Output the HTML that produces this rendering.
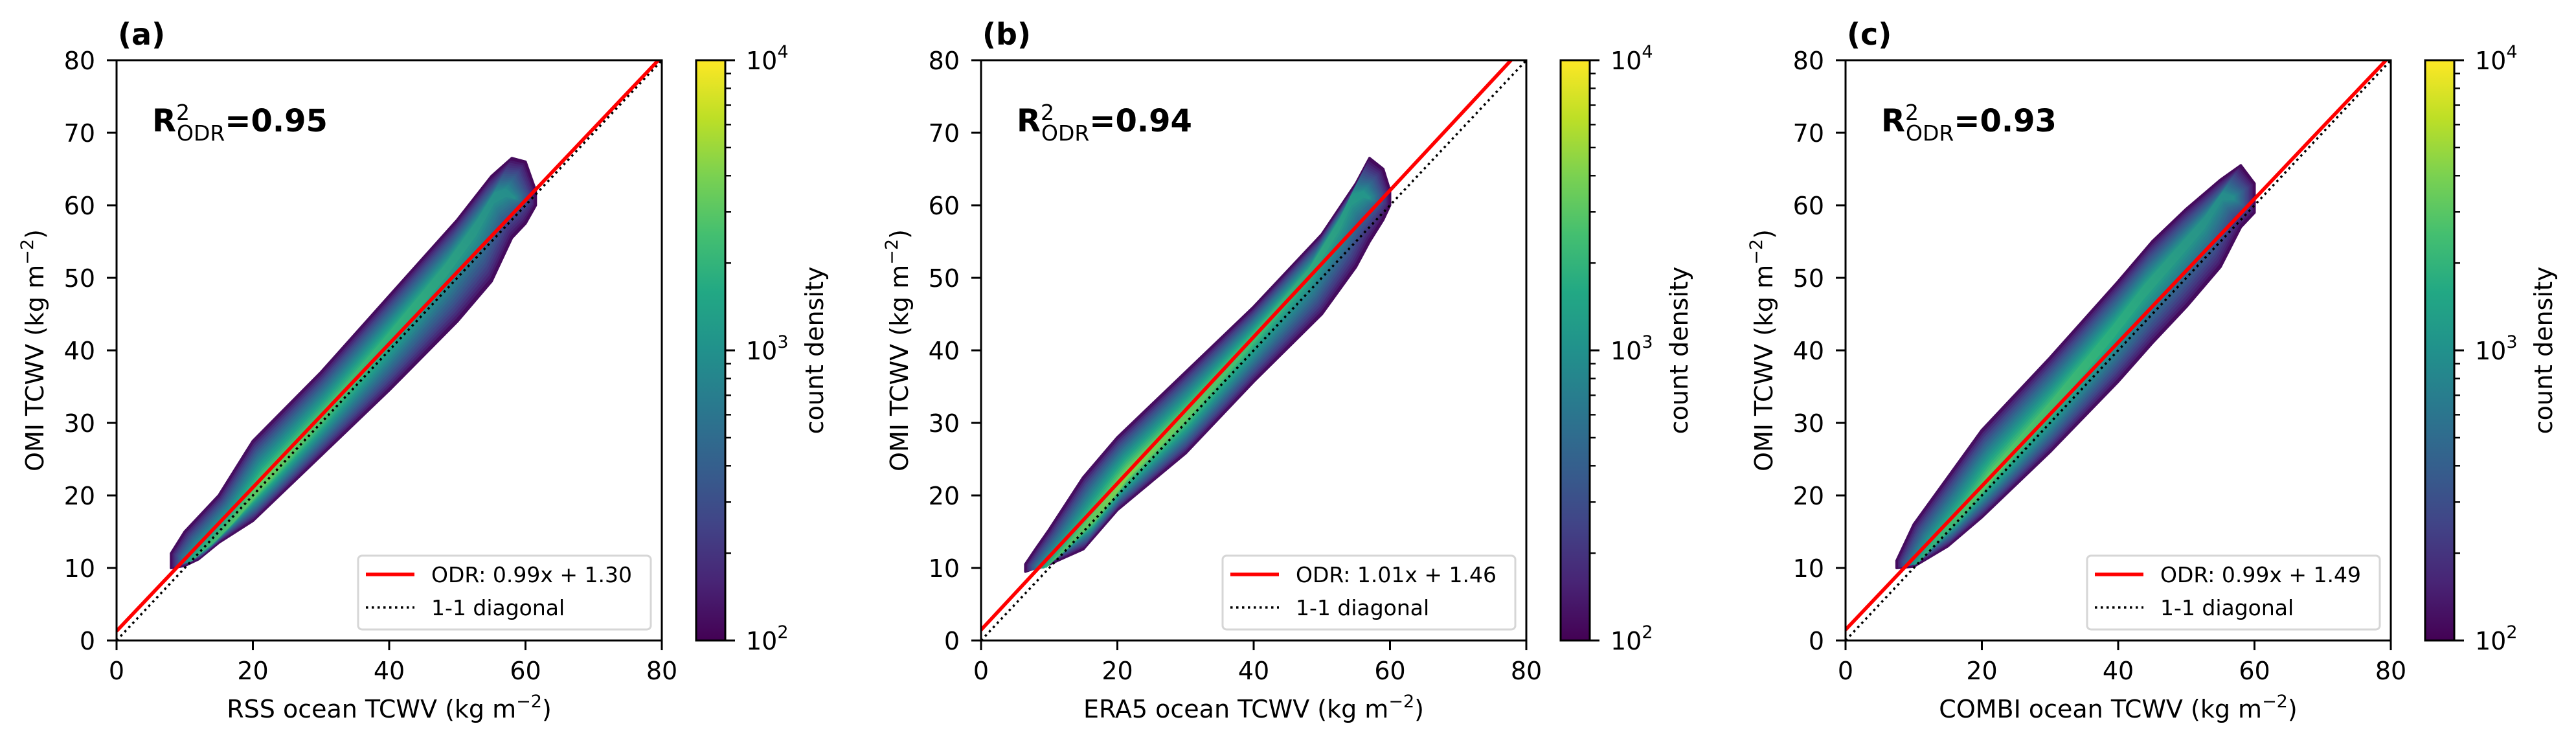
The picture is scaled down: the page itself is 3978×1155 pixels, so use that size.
<!DOCTYPE html>
<html><head><meta charset="utf-8">
<style>
html,body{margin:0;padding:0;background:#fff;}
svg{display:block;font-family:"DejaVu Sans","Liberation Sans",sans-serif;}
</style></head>
<body>
<svg id="fig" width="3978" height="1155" viewBox="0 0 3978 1155" xmlns="http://www.w3.org/2000/svg">
<defs>
<linearGradient id="viridis" x1="0" y1="1" x2="0" y2="0">
<stop offset="0" stop-color="#440154"/><stop offset="0.1" stop-color="#482475"/><stop offset="0.2" stop-color="#414487"/><stop offset="0.3" stop-color="#355f8d"/><stop offset="0.4" stop-color="#2a788e"/><stop offset="0.5" stop-color="#21918c"/><stop offset="0.6" stop-color="#22a884"/><stop offset="0.7" stop-color="#44bf70"/><stop offset="0.8" stop-color="#7ad151"/><stop offset="0.9" stop-color="#bddf26"/><stop offset="1" stop-color="#fde725"/>
</linearGradient>
</defs>
</svg>
<script>
// ---- data ----
const panelLabels = ["(a)", "(b)", "(c)"];
const xLabels = ["RSS ocean TCWV", "ERA5 ocean TCWV", "COMBI ocean TCWV"];
const r2Values = ["0.95", "0.94", "0.93"];
const slopes = [0.99, 1.01, 0.99];
const intercepts = [1.30, 1.46, 1.49];
const tickValues = [0, 10, 20, 30, 40, 50, 60, 70, 80];
const xTickValues = [0, 20, 40, 60, 80];
const cbarExponents = [2, 3, 4];
const peakDensity = [0.80, 0.85, 0.78];
const cloudXsA = [8, 10, 12, 15, 20, 30, 40, 50, 55, 58, 60, 61.5];
const cloudHiA = [12, 15, 17, 20, 27.5, 37, 47.5, 58, 64, 66.5, 66, 62];
const cloudLoA = [10, 10.3, 11.2, 13.5, 16.5, 25.5, 34.5, 44, 49.5, 55.5, 57.5, 60];
const cloudXsB = [6.5, 8, 10, 15, 20, 30, 40, 50, 55, 57, 59, 60];
const cloudHiB = [10.5, 12.6, 15.3, 22.5, 28, 37, 46, 56, 63, 66.5, 65, 62];
const cloudLoB = [9.5, 10, 10.5, 12.6, 18, 25.8, 35.7, 45, 51.5, 55, 58, 60];
const cloudXsC = [7.5, 10, 15, 20, 30, 40, 45, 50, 55, 58, 60];
const cloudHiC = [11, 16, 22.5, 29, 39, 49.5, 55, 59.5, 63.5, 65.5, 63];
const cloudLoC = [10, 10.2, 13, 17, 26, 35.7, 41, 46, 51.5, 57, 59];

const clouds = [[cloudXsA, cloudHiA, cloudLoA], [cloudXsB, cloudHiB, cloudLoB], [cloudXsC, cloudHiC, cloudLoC]];
const svg = document.getElementById('fig');
const NS = 'http://www.w3.org/2000/svg';
const defs = svg.querySelector('defs');
const LEFTS = [180, 1515, 2850], TOP = 93, W = 842, H = 896;
const VIR = ["#440154","#482475","#414487","#355f8d","#2a788e","#21918c","#22a884","#44bf70","#7ad151","#bddf26","#fde725"];
function hex(h){return [parseInt(h.substr(1,2),16),parseInt(h.substr(3,2),16),parseInt(h.substr(5,2),16)];}
function vir(v){v=Math.max(0,Math.min(1,v));const f=v*10,i=Math.min(9,Math.floor(f)),t=f-i;const a=hex(VIR[i]),b=hex(VIR[i+1]);
 return 'rgb('+a.map((c,k)=>Math.round(c+(b[k]-c)*t)).join(',')+')';}
function mk(tag, attrs, parent){const e=document.createElementNS(NS,tag);for(const k in attrs)e.setAttribute(k,attrs[k]);(parent||svg).appendChild(e);return e;}

for (let p = 0; p < 3; p++) {
  const L = LEFTS[p];
  const sx = v => L + v / 80 * W;
  const sy = v => TOP + H - v / 80 * H;
  const g = mk('g', {});
  
  

  const cp = mk('clipPath', {id: 'clip' + p}, defs);
  mk('rect', {x: L, y: TOP, width: W, height: H}, cp);

  // density cloud
  const [xs, hi, lo] = clouds[p];
  const cg = mk('g', {'clip-path': 'url(#clip' + p + ')'}, g);
  
  
  const n = xs.length, xm = (xs[0] + xs[n-1]) / 2;
  const NL = 16;
  for (let l = 0; l < NL; l++) {
    const t = l / NL;
    const up = [], dn = [];
    for (let i = 0; i < n; i++) {
      const c = (hi[i] + lo[i]) / 2;
      const sh = 1 - 0.92 * t;
      const x = xm + (xs[i] - xm) * (1 - 0.12 * t);
      up.push([sx(x), sy(c + (hi[i] - c) * sh)]);
      dn.push([sx(x), sy(c + (lo[i] - c) * sh)]);
    }
    const all = up.concat(dn.reverse());
    const v = 0.04 + (peakDensity[p] - 0.04) * Math.pow(t, 0.85);
    const gid = 'cg' + p + '_' + l;
    const lg = mk('linearGradient', {id: gid, gradientUnits: 'userSpaceOnUse', x1: sx(xs[0]), y1: sy(lo[0]), x2: sx(xs[n-1]), y2: sy(hi[n-1])}, defs);
    mk('stop', {offset: 0, 'stop-color': vir(v * 0.8)}, lg);
    mk('stop', {offset: 0.25, 'stop-color': vir(v)}, lg);
    mk('stop', {offset: 0.6, 'stop-color': vir(v * 0.85)}, lg);
    mk('stop', {offset: 1, 'stop-color': vir(v * 0.62)}, lg);
    const poly = mk('polygon', {points: all.map(q => q[0].toFixed(1) + ',' + q[1].toFixed(1)).join(' '), fill: 'url(#' + gid + ')', stroke: 'url(#' + gid + ')', 'stroke-width': l === 0 ? 4 : 0, 'stroke-linejoin': 'round'}, cg);
    
    
  }

  // lines
  const lg2 = mk('g', {'clip-path': 'url(#clip' + p + ')'}, g);
  const diag = mk('line', {x1: sx(0), y1: sy(0), x2: sx(80), y2: sy(80), stroke: '#000', 'stroke-width': 3.5, 'stroke-dasharray': '3.5 5.5'}, lg2);
  
  
  const m = slopes[p], b = intercepts[p];
  const xe = Math.min(80, (80 - b) / m);
  const odr = mk('line', {x1: sx(0), y1: sy(b), x2: sx(xe), y2: sy(m * xe + b), stroke: '#ff0000', 'stroke-width': 5.5}, lg2);
  
  

  // axes frame
  const fr = mk('rect', {x: L, y: TOP, width: W, height: H, fill: 'none', stroke: '#000', 'stroke-width': 3}, g);
  
  

  // ticks
  tickValues.forEach(v => {
    mk('line', {x1: L - 15, x2: L, y1: sy(v), y2: sy(v), stroke: '#000', 'stroke-width': 3}, g);
    const tx = mk('text', {x: L - 33, y: sy(v) + 14, 'text-anchor': 'end', 'font-size': 38}, g);
    tx.textContent = v;
    
    
  });
  xTickValues.forEach(v => {
    mk('line', {x1: sx(v), x2: sx(v), y1: TOP + H, y2: TOP + H + 15, stroke: '#000', 'stroke-width': 3}, g);
    const tx = mk('text', {x: sx(v), y: TOP + H + 60, 'text-anchor': 'middle', 'font-size': 38}, g);
    tx.textContent = v;
    
    
  });

  // axis labels
  const xl = mk('text', {x: L + W / 2, y: 1108, 'text-anchor': 'middle', 'font-size': 38}, g);
  xl.innerHTML = xLabels[p] + ' (kg m<tspan dy="-16" font-size="27">−2</tspan><tspan dy="16">)</tspan>';
  
  
  const yl = mk('text', {x: 0, y: 0, 'text-anchor': 'middle', 'font-size': 38, transform: 'translate(' + (L - 113) + ',' + (TOP + H / 2) + ') rotate(-90)'}, g);
  yl.innerHTML = 'OMI TCWV (kg m<tspan dy="-16" font-size="27">−2</tspan><tspan dy="16">)</tspan>';
  
  

  // panel label
  const pl = mk('text', {x: L + 2, y: 69, 'font-size': 46, 'font-weight': 'bold'}, g);
  pl.textContent = panelLabels[p];
  
  

  // R2 annotation
  const r2 = mk('text', {x: L + 55, y: 203, 'font-size': 48, 'font-weight': 'bold'}, g);
  r2.innerHTML = 'R<tspan dx="0" dy="-18" font-size="33" font-weight="normal">2</tspan><tspan dx="-20" dy="32" font-size="33" font-weight="normal">ODR</tspan><tspan dy="-14">=' + r2Values[p] + '</tspan>';
  
  

  // legend
  const lgd = mk('g', {}, g);
  
  
  const lx = L + W - 17 - 452, ly = TOP + H - 17 - 114;
  mk('rect', {x: lx, y: ly, width: 452, height: 114, rx: 6, fill: '#fff', 'fill-opacity': 0.8, stroke: '#d6d6d6', 'stroke-width': 3}, lgd);
  mk('line', {x1: lx + 12, x2: lx + 87, y1: ly + 29, y2: ly + 29, stroke: '#ff0000', 'stroke-width': 5.5}, lgd);
  mk('line', {x1: lx + 12, x2: lx + 87, y1: ly + 80, y2: ly + 80, stroke: '#000', 'stroke-width': 3.5, 'stroke-dasharray': '3.5 5.5'}, lgd);
  const t1 = mk('text', {x: lx + 113, y: ly + 41, 'font-size': 33}, lgd);
  t1.textContent = 'ODR: ' + slopes[p].toFixed(2) + 'x + ' + intercepts[p].toFixed(2);
  
  
  const t2 = mk('text', {x: lx + 113, y: ly + 92, 'font-size': 33}, lgd);
  t2.textContent = '1-1 diagonal';
  
  

  // colorbar
  const cx = L + W + 53, cw = 45;
  const cb = mk('g', {}, g);
  
  
  mk('rect', {x: cx, y: TOP, width: cw, height: H, fill: 'url(#viridis)', stroke: '#000', 'stroke-width': 3}, cb);
  const cy = e => TOP + H - (e - 2) / 2 * H;
  cbarExponents.forEach(e => {
    mk('line', {x1: cx + cw, x2: cx + cw + 15, y1: cy(e), y2: cy(e), stroke: '#000', 'stroke-width': 3}, cb);
    const tt = mk('text', {x: cx + cw + 32, y: cy(e) + 14, 'font-size': 38}, cb);
    tt.innerHTML = '10<tspan dy="-18" font-size="27">' + e + '</tspan>';
    
    
  });
  for (let e = 2; e < 4; e++) for (let k = 2; k <= 9; k++) {
    const yy = cy(e + Math.log10(k));
    mk('line', {x1: cx + cw, x2: cx + cw + 9, y1: yy, y2: yy, stroke: '#000', 'stroke-width': 2.4}, cb);
  }
  const cl = mk('text', {x: 0, y: 0, 'text-anchor': 'middle', 'font-size': 38, transform: 'translate(' + (cx + 196) + ',' + (TOP + H / 2) + ') rotate(-90)'}, cb);
  cl.textContent = 'count density';
  
  
}
</script>
</body></html>
